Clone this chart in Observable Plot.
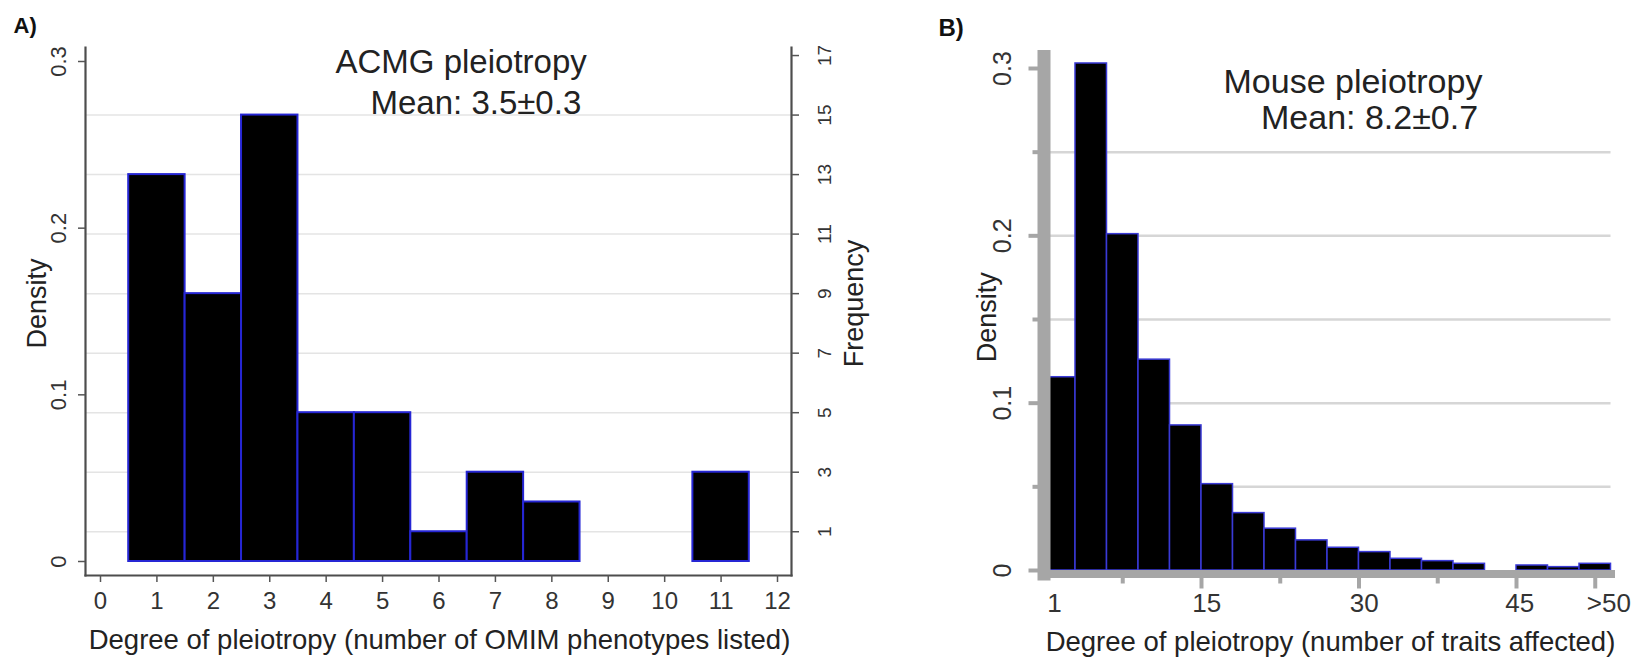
<!DOCTYPE html>
<html>
<head>
<meta charset="utf-8">
<script src="https://cdn.jsdelivr.net/npm/d3@7"></script>
<script src="https://cdn.jsdelivr.net/npm/@observablehq/plot@0.6"></script>
<style>
  html, body { margin: 0; padding: 0; background: #fff; }
  #wrap { position: relative; width: 1642px; height: 657px; overflow: hidden; }
  #wrap svg { position: absolute; top: 0; }
</style>
</head>
<body>
<div id="wrap"></div>
<script>
// ---------- Panel A: ACMG pleiotropy ----------
const acmgDegree = [1, 2, 3, 4, 5, 6, 7, 8, 11];
const acmgFreq = [13, 9, 15, 5, 5, 1, 3, 2, 3];
const acmgXTicks = [0, 1, 2, 3, 4, 5, 6, 7, 8, 9, 10, 11, 12];
const acmgDensityTicks = [0, 0.1, 0.2, 0.3];
const acmgFreqTicks = [1, 3, 5, 7, 9, 11, 13, 15, 17];
const acmgGridFreq = [1, 3, 5, 7, 9, 11, 13, 15];

// ---------- Panel B: Mouse pleiotropy ----------
const mouseBinStart = [0, 3, 6, 9, 12, 15, 18, 21, 24, 27, 30, 33, 36, 39, 42, 45, 48, 51];
const mouseDensity = [0.1155, 0.303, 0.201, 0.126, 0.0867, 0.0516, 0.0343, 0.025, 0.018,
                      0.0136, 0.011, 0.007, 0.0056, 0.004, 0, 0.003, 0.002, 0.004];
const mouseBinWidth = 3;
const mouseDensityTicks = [0, 0.1, 0.2, 0.3];
const mouseDensityMinor = [0.05, 0.15, 0.25];
const mouseGrid = [0.05, 0.1, 0.15, 0.2, 0.25];
const mouseXMajor = [15, 30, 45, 52.5];
const mouseXMinor = [7.5, 22.5, 37.5];
const mouseXLabelPos = [1, 15.5, 30.5, 45.3, 53.8];
const mouseXLabels = ["1", "15", "30", "45", ">50"];

const FONT = "'Liberation Sans', Arial, Helvetica, sans-serif";
const TXT = "#222";

const N = d3.sum(acmgFreq);
const acmgData = acmgDegree.map((k, i) => ({k, d: acmgFreq[i] / N}));

const plotA = Plot.plot({
  width: 880, height: 657,
  marginLeft: 85, marginRight: 89, marginTop: 47, marginBottom: 82,
  style: {fontFamily: FONT, color: TXT, background: "transparent"},
  x: {domain: [0, 12], insetLeft: 15, insetRight: 14},
  y: {domain: [0, 0.3], insetTop: 14, insetBottom: 14},
  marks: [
    Plot.gridY(acmgGridFreq.map(f => f / N), {stroke: "#e4e4e4", strokeOpacity: 1, strokeWidth: 1.5}),
    Plot.rectY(acmgData, {x1: d => d.k - 0.5, x2: d => d.k + 0.5, y: "d",
      fill: "#000", stroke: "#2626d4", strokeWidth: 2}),
    Plot.frame({anchor: "left", stroke: "#4d4d4d", strokeWidth: 2.2}),
    Plot.frame({anchor: "right", stroke: "#4d4d4d", strokeWidth: 2.2}),
    Plot.frame({anchor: "bottom", stroke: "#4d4d4d", strokeWidth: 2.2}),
    Plot.axisX({ticks: acmgXTicks, tickFormat: d => String(d), tickSize: 7, tickPadding: 9,
      stroke: "#555", strokeWidth: 1.5, fontSize: 24, fill: "#333", label: null}),
    Plot.axisY({ticks: acmgDensityTicks, tickFormat: d => String(d), tickSize: 7, tickPadding: 13,
      tickRotate: -90, textAnchor: "middle", lineAnchor: "bottom",
      stroke: "#555", strokeWidth: 1.5, fontSize: 22, fill: "#333", label: null}),
    Plot.axisY({anchor: "right", ticks: acmgFreqTicks.map(f => f / N),
      tickFormat: d => String(Math.round(d * N)), tickSize: 7, tickPadding: 19,
      tickRotate: -90, textAnchor: "middle", lineAnchor: "top",
      stroke: "#555", strokeWidth: 1.5, fontSize: 19, fill: "#333", label: null}),
    Plot.text(["Density"], {text: d => d, frameAnchor: "left", dx: -40, dy: -8, rotate: -90,
      textAnchor: "middle", lineAnchor: "bottom", fontSize: 27, fill: TXT}),
    Plot.text(["Frequency"], {text: d => d, frameAnchor: "right", dx: 52, dy: -8, rotate: -90,
      textAnchor: "middle", lineAnchor: "top", fontSize: 27, fill: TXT}),
    Plot.text(["Degree of pleiotropy (number of OMIM phenotypes listed)"], {text: d => d,
      frameAnchor: "bottom", dx: 1, dy: 73, textAnchor: "middle", lineAnchor: "bottom",
      fontSize: 27.5, fill: TXT}),
    Plot.text(["ACMG pleiotropy"], {text: d => d, frameAnchor: "top-left", dx: 250, dy: 25,
      textAnchor: "start", lineAnchor: "bottom", fontSize: 33, fill: TXT}),
    Plot.text(["Mean: 3.5±0.3"], {text: d => d, frameAnchor: "top-left", dx: 285, dy: 66,
      textAnchor: "start", lineAnchor: "bottom", fontSize: 33, fill: TXT}),
    Plot.text(["A)"], {text: d => d, frameAnchor: "top-left", dx: -72, dy: -15,
      textAnchor: "start", lineAnchor: "bottom", fontSize: 22, fontWeight: "bold", fill: "#111"})
  ]
});
plotA.style.left = "0px";

const mouseData = mouseBinStart.map((s, i) => ({x1: s, x2: s + mouseBinWidth, d: mouseDensity[i]}));
const GRAY = "#a6a6a6";

const plotB = Plot.plot({
  width: 762, height: 657,
  marginLeft: 163.5, marginRight: 31.5, marginTop: 56, marginBottom: 83.5,
  style: {fontFamily: FONT, color: TXT, background: "transparent"},
  x: {domain: [0, 54]},
  y: {domain: [0, 0.3], insetTop: 12, insetBottom: 3.5},
  marks: [
    Plot.gridY(mouseGrid, {stroke: "#d6d6d6", strokeOpacity: 1, strokeWidth: 2.5}),
    Plot.rectY(mouseData, {x1: "x1", x2: "x2", y: "d", fill: "#000", stroke: "#3a3ad6", strokeWidth: 1.5}),
    Plot.axisY({ticks: mouseDensityTicks, tickFormat: () => "", tickSize: 15, stroke: GRAY, strokeWidth: 4, label: null}),
    Plot.axisY({ticks: mouseDensityMinor, tickFormat: () => "", tickSize: 11, stroke: GRAY, strokeWidth: 4, label: null}),
    Plot.axisX({ticks: mouseXMajor, tickFormat: () => "", tickSize: 15, stroke: GRAY, strokeWidth: 4, label: null}),
    Plot.axisX({ticks: mouseXMinor, tickFormat: () => "", tickSize: 10, stroke: GRAY, strokeWidth: 4, label: null}),
    Plot.frame({anchor: "left", stroke: GRAY, strokeWidth: 13, strokeLinecap: "square"}),
    Plot.frame({anchor: "bottom", stroke: GRAY, strokeWidth: 8, strokeLinecap: "square"}),
    Plot.axisY({ticks: mouseDensityTicks, tickFormat: d => String(d), tickSize: 0, tickPadding: 33.5,
      tickRotate: -90, textAnchor: "middle", lineAnchor: "bottom", fontSize: 25, fill: "#333", label: null}),
    Plot.axisX({ticks: mouseXLabelPos, tickFormat: d => mouseXLabels[mouseXLabelPos.indexOf(d)],
      tickSize: 0, tickPadding: 20, fontSize: 26, fill: "#333", label: null}),
    Plot.text(["Density"], {text: d => d, frameAnchor: "left", dx: -48.5, dy: 2, rotate: -90,
      textAnchor: "middle", lineAnchor: "bottom", fontSize: 27, fill: TXT}),
    Plot.text(["Degree of pleiotropy (number of traits affected)"], {text: d => d,
      frameAnchor: "bottom", dx: 3, dy: 76.5, textAnchor: "middle", lineAnchor: "bottom",
      fontSize: 27.5, fill: TXT}),
    Plot.text(["Mouse pleiotropy"], {text: d => d, frameAnchor: "top-left", dx: 179.5, dy: 36,
      textAnchor: "start", lineAnchor: "bottom", fontSize: 34, fill: TXT}),
    Plot.text(["Mean: 8.2±0.7"], {text: d => d, frameAnchor: "top-left", dx: 217, dy: 72,
      textAnchor: "start", lineAnchor: "bottom", fontSize: 34, fill: TXT}),
    Plot.text(["B)"], {text: d => d, frameAnchor: "top-left", dx: -105.5, dy: -21,
      textAnchor: "start", lineAnchor: "bottom", fontSize: 24, fontWeight: "bold", fill: "#111"})
  ]
});
plotB.style.left = "880px";

const wrap = document.getElementById("wrap");
wrap.appendChild(plotA);
wrap.appendChild(plotB);
</script>
</body>
</html>
